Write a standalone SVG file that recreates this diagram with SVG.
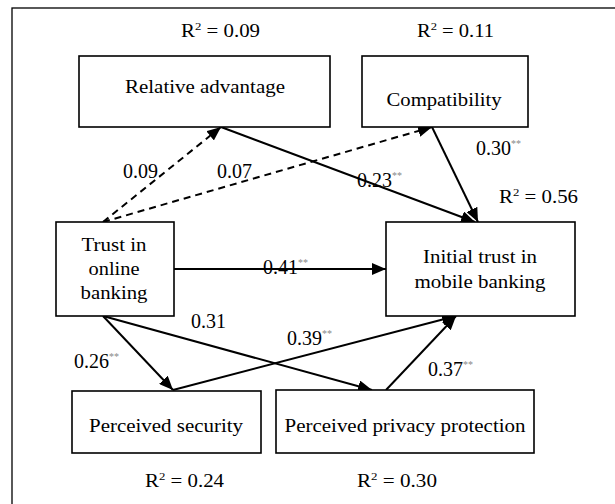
<svg xmlns="http://www.w3.org/2000/svg" width="615" height="504" viewBox="0 0 615 504" font-family="'Liberation Serif', 'Times New Roman', Times, serif">
<style>
.box{fill:#fff;stroke:#000;stroke-width:1.6}
text{font-family:'Liberation Serif','Times New Roman',Times,serif;font-size:18px;fill:#000}
.m{text-anchor:middle}
.k{font-size:20px}
.sup{font-size:11px}
.st{font-size:10px;fill:#888}
.c{fill:none;stroke:#000;stroke-width:2}
.d{stroke-dasharray:7 5}
</style>
<defs>
<marker id="ah" markerUnits="userSpaceOnUse" markerWidth="14" markerHeight="12" refX="14" refY="6" orient="auto">
<path d="M0,0 L14,6 L0,12 z" fill="#000"/>
</marker>
</defs>
<rect x="12" y="8" width="615" height="510" fill="none" stroke="#000" stroke-width="1.3"/>

<g id="connectors">
<line class="c d" x1="103" y1="222" x2="221" y2="127" marker-end="url(#ah)"/>
<line class="c d" x1="103" y1="222" x2="432" y2="127" marker-end="url(#ah)"/>
<line class="c" x1="221" y1="127" x2="475" y2="222" marker-end="url(#ah)"/>
<line class="c" x1="432" y1="127" x2="478" y2="222" marker-end="url(#ah)"/>
<line class="c" x1="174" y1="269" x2="386" y2="269" marker-end="url(#ah)"/>
<line class="c" x1="103" y1="316" x2="173" y2="390" marker-end="url(#ah)"/>
<line class="c" x1="103" y1="316" x2="372" y2="390" marker-end="url(#ah)"/>
<line class="c" x1="173" y1="390" x2="456" y2="316" marker-end="url(#ah)"/>
<line class="c" x1="386" y1="390" x2="456" y2="316" marker-end="url(#ah)"/>
</g>

<g id="coefficients">
<text class="k" x="123" y="178">0.09</text>
<text class="k" x="217" y="178">0.07</text>
<text class="k" x="357" y="187">0.23<tspan class="st" dy="-8">**</tspan></text>
<text class="k" x="476" y="155">0.30<tspan class="st" dy="-8">**</tspan></text>
<text class="k" x="263" y="274">0.41<tspan class="st" dy="-8">**</tspan></text>
<text class="k" x="191" y="328">0.31</text>
<text class="k" x="287" y="345">0.39<tspan class="st" dy="-8">**</tspan></text>
<text class="k" x="74" y="368">0.26<tspan class="st" dy="-8">**</tspan></text>
<text class="k" x="428" y="376">0.37<tspan class="st" dy="-8">**</tspan></text>
</g>

<g id="relative-advantage">
<rect class="box" x="79" y="56" width="251" height="71"/>
<text class="m" x="205" y="93" textLength="160" lengthAdjust="spacingAndGlyphs">Relative advantage</text>
<text x="181" y="37" textLength="79" lengthAdjust="spacingAndGlyphs">R<tspan class="sup" dy="-7">2</tspan><tspan dy="7"> = 0.09</tspan></text>
</g>

<g id="compatibility">
<rect class="box" x="362" y="56" width="166" height="71"/>
<text class="m" x="444" y="106" textLength="115" lengthAdjust="spacingAndGlyphs">Compatibility</text>
<text x="417" y="37" textLength="77" lengthAdjust="spacingAndGlyphs">R<tspan class="sup" dy="-7">2</tspan><tspan dy="7"> = 0.11</tspan></text>
</g>

<g id="trust-online">
<rect class="box" x="56" y="222" width="118" height="94"/>
<text class="m" x="114" y="251" textLength="65" lengthAdjust="spacingAndGlyphs">Trust in</text>
<text class="m" x="114" y="275" textLength="51" lengthAdjust="spacingAndGlyphs">online</text>
<text class="m" x="114" y="299" textLength="67" lengthAdjust="spacingAndGlyphs">banking</text>
</g>

<g id="initial-trust">
<rect class="box" x="386" y="222" width="189" height="94"/>
<text class="m" x="480" y="263" textLength="114" lengthAdjust="spacingAndGlyphs">Initial trust in</text>
<text class="m" x="480" y="288" textLength="131" lengthAdjust="spacingAndGlyphs">mobile banking</text>
<text x="499" y="203" textLength="79" lengthAdjust="spacingAndGlyphs">R<tspan class="sup" dy="-7">2</tspan><tspan dy="7"> = 0.56</tspan></text>
</g>

<g id="perceived-security">
<rect class="box" x="72" y="391" width="189" height="62"/>
<text class="m" x="166" y="432" textLength="154" lengthAdjust="spacingAndGlyphs">Perceived security</text>
<text x="145" y="487" textLength="79" lengthAdjust="spacingAndGlyphs">R<tspan class="sup" dy="-7">2</tspan><tspan dy="7"> = 0.24</tspan></text>
</g>

<g id="perceived-privacy">
<rect class="box" x="276" y="390" width="258" height="63"/>
<text class="m" x="405" y="432" textLength="241" lengthAdjust="spacingAndGlyphs">Perceived privacy protection</text>
<text x="357" y="487" textLength="80" lengthAdjust="spacingAndGlyphs">R<tspan class="sup" dy="-7">2</tspan><tspan dy="7"> = 0.30</tspan></text>
</g>
</svg>
